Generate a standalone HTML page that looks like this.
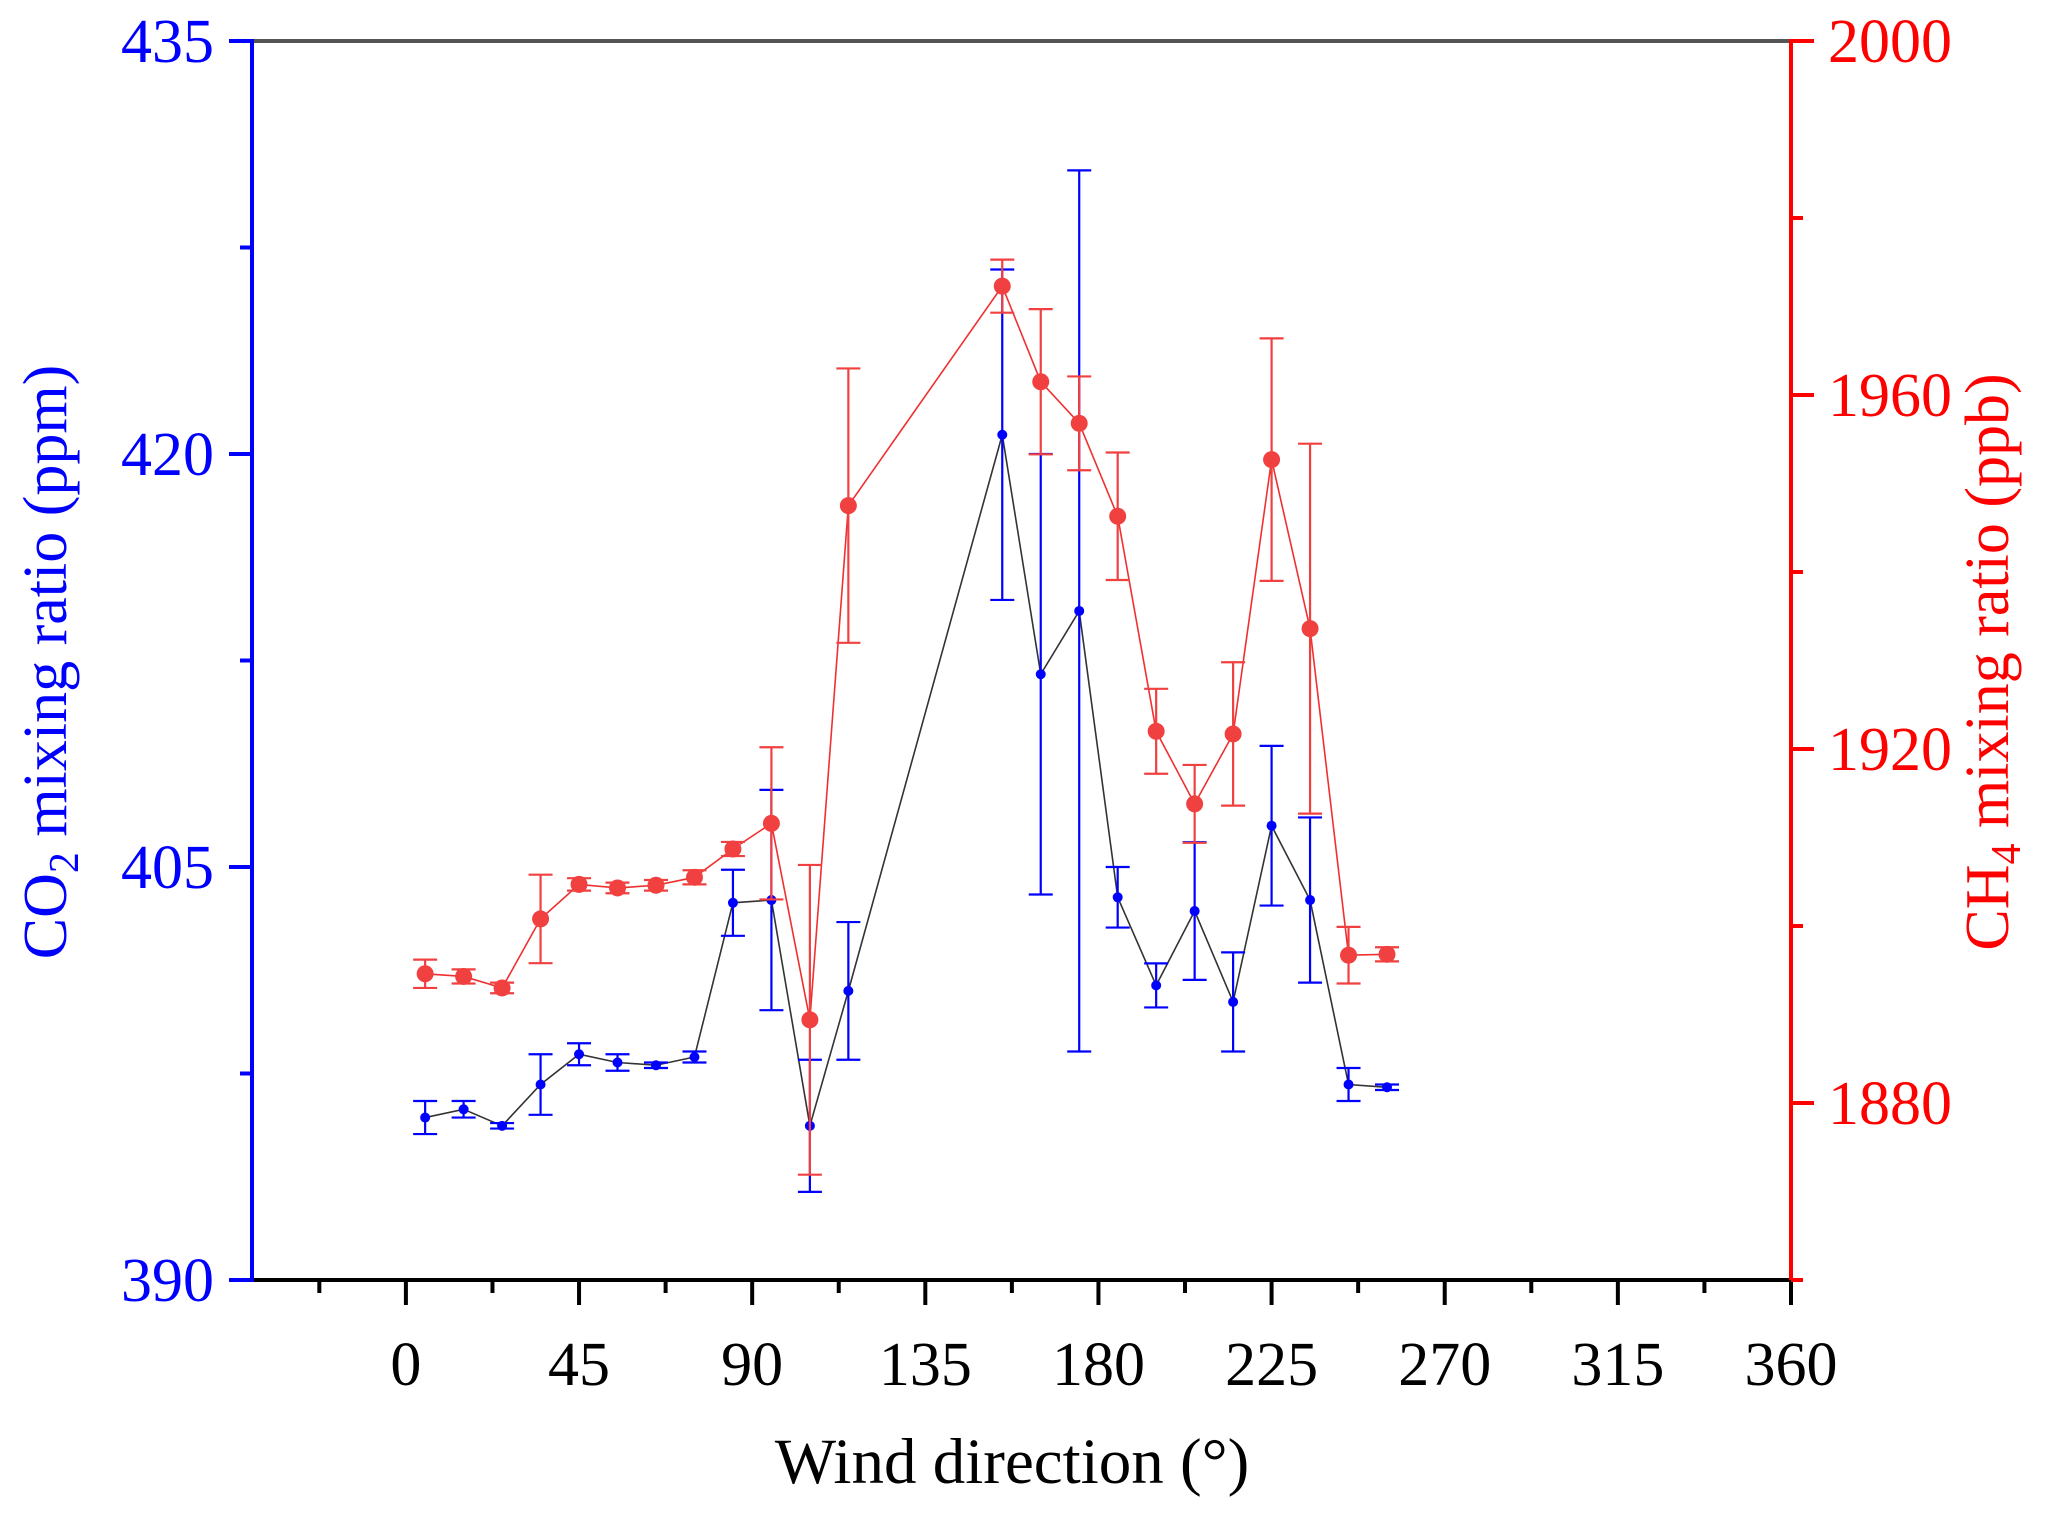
<!DOCTYPE html>
<html><head><meta charset="utf-8"><style>html,body{margin:0;padding:0;background:#fff}svg{display:block}text{font-family:"Liberation Serif","Times New Roman",serif}</style></head>
<body>
<svg id="chart" width="2067" height="1513" xmlns="http://www.w3.org/2000/svg"></svg>
<script>
const directions=[5,15,25,35,45,55,65,75,85,95,105,115,155,165,175,185,195,205,215,225,235,245,255];
const co2Values=[395.9,396.2,395.6,397.1,398.2,397.9,397.8,398.1,403.7,403.8,395.6,400.5,420.7,412.0,414.3,403.9,400.7,403.4,400.1,406.5,403.8,397.1,397.0];
const co2Errors=[0.6,0.3,0.1,1.1,0.4,0.3,0.1,0.2,1.2,4.0,2.4,2.5,6.0,8.0,16.0,1.1,0.8,2.5,1.8,2.9,3.0,0.6,0.1];
const ch4Values=[1894.6,1894.3,1893.0,1900.8,1904.7,1904.3,1904.6,1905.5,1908.7,1911.6,1889.4,1947.5,1972.3,1961.5,1956.8,1946.3,1922.0,1913.8,1921.7,1952.7,1933.6,1896.7,1896.8];
const ch4Errors=[1.6,0.8,0.6,5.0,0.7,0.6,0.6,0.8,0.8,8.6,17.5,15.5,3.0,8.2,5.3,7.2,4.8,4.4,8.1,13.7,20.9,3.2,0.8];
const xTicks=[0,45,90,135,180,225,270,315,360];
const co2Ticks=[390,405,420,435];
const ch4Ticks=[1880,1920,1960,2000];

const L=252,R=1791,T=41,B=1280;
const X=v=>L+(v+40)/400*(R-L);
const Y1=v=>B-(v-390)/45*(B-T);
const Y2=v=>B-(v-1860)/140*(B-T);
const svg=document.getElementById('chart');
const NS='http://www.w3.org/2000/svg';
function mk(tag,attrs,parent){const e=document.createElementNS(NS,tag);for(const k in attrs)e.setAttribute(k,attrs[k]);(parent||svg).appendChild(e);return e;}

let g=mk('g',{});


mk('line',{x1:L,y1:T,x2:R,y2:T,stroke:'#555',"stroke-width":4},g);
let e=mk('line',{x1:L,y1:B,x2:R,y2:B,stroke:'#000',"stroke-width":4},g);


e=mk('line',{x1:L,y1:T-2,x2:L,y2:B+2,stroke:'#00f',"stroke-width":4},g);


e=mk('line',{x1:R,y1:T-2,x2:R,y2:B+2,stroke:'#f00',"stroke-width":4},g);



for(let v=-22.5;v<=360;v+=22.5){const major=Math.abs(v/45-Math.round(v/45))<1e-6;mk('line',{x1:X(v),y1:B,x2:X(v),y2:B+(major?25:13),stroke:'#000',"stroke-width":4},g);}
xTicks.forEach(v=>{const t=mk('text',{x:X(v),y:1385,"font-size":62,"text-anchor":"middle",fill:'#000'});t.textContent=v;

});
for(let v=390;v<=435;v+=7.5){const major=(v-390)%15===0;mk('line',{x1:L,y1:Y1(v),x2:L-(major?23:12),y2:Y1(v),stroke:'#00f',"stroke-width":4},g);}
co2Ticks.forEach(v=>{const t=mk('text',{x:214,y:Y1(v)+21,"font-size":62,"text-anchor":"end",fill:'#00f'});t.textContent=v;

});
for(let v=1860;v<=2000;v+=20){const major=(v-1880)%40===0;mk('line',{x1:R,y1:Y2(v),x2:R+(major?23:12),y2:Y2(v),stroke:'#f00',"stroke-width":4},g);}
ch4Ticks.forEach(v=>{const t=mk('text',{x:1828,y:Y2(v)+21,"font-size":62,"text-anchor":"start",fill:'#f00'});t.textContent=v;

});

let t=mk('text',{x:1012,y:1483,"font-size":65,"text-anchor":"middle",fill:'#000'});t.textContent='Wind direction (°)';


t=mk('text',{x:0,y:0,"font-size":62,"text-anchor":"middle",fill:'#00f',transform:`translate(66,662) rotate(-90)`});
t.innerHTML='CO<tspan font-size="42" dy="12">2</tspan><tspan dy="-12"> mixing ratio (ppm)</tspan>';


t=mk('text',{x:0,y:0,"font-size":62,"text-anchor":"middle",fill:'#f00',transform:`translate(2008,662) rotate(-90)`});
t.innerHTML='CH<tspan font-size="42" dy="12">4</tspan><tspan dy="-12"> mixing ratio (ppb)</tspan>';



function series(vals,errs,Y,lineCol,col,r,name){
  const sg=mk('g',{});
  
  
  const pts=directions.map((d,i)=>X(d)+','+Y(vals[i])).join(' ');
  mk('polyline',{points:pts,fill:'none',stroke:lineCol,"stroke-width":1.6},sg);
  directions.forEach((d,i)=>{
    const x=X(d),y1=Y(vals[i]+errs[i]),y2=Y(vals[i]-errs[i]);
    const eb=mk('path',{d:`M${x},${y1}V${y2}M${x-12},${y1}H${x+12}M${x-12},${y2}H${x+12}`,stroke:col,"stroke-width":2.2,fill:'none'},sg);
    
    
  });
  directions.forEach((d,i)=>{
    const c=mk('circle',{cx:X(d),cy:Y(vals[i]),r:r,fill:col},sg);
    
    
  });
}
series(co2Values,co2Errors,Y1,'#333','#0000ff',5,'co2-series');
series(ch4Values,ch4Errors,Y2,'#f03030','#f04040',8.5,'ch4-series');
</script>
</body></html>
